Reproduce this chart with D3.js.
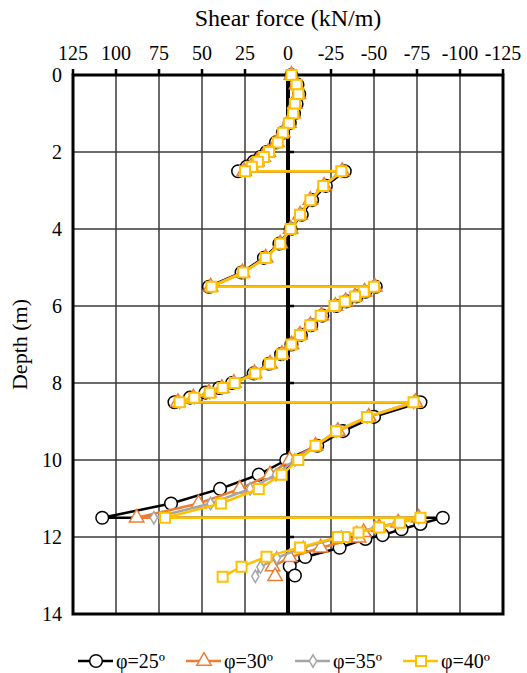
<!DOCTYPE html>
<html><head><meta charset="utf-8">
<script src="https://cdn.jsdelivr.net/npm/d3@7"></script>
<style>body{margin:0;background:#fff;} svg{display:block;}</style>
</head><body>
<svg id="c" width="527" height="673"></svg>
<script>
const xTicks = [125,100,75,50,25,0,-25,-50,-75,-100,-125];
const yTicks = [0,2,4,6,8,10,12,14];
const seriesNames = ["φ=25º","φ=30º","φ=35º","φ=40º"];

const depth25 = [0,0.25,0.5,0.75,1,1.25,1.5,1.75,2,2.13,2.25,2.38,2.5,2.5,2.88,3.25,3.63,4,4.38,4.75,5.13,5.5,5.5,5.63,5.75,5.88,6,6.25,6.5,6.75,7,7.25,7.5,7.75,8,8.13,8.25,8.38,8.5,8.5,8.88,9.25,9.63,10,10.38,10.75,11.13,11.5,11.5,11.66,11.8,11.95,12.05,12.28,12.52,12.76,13];
const shear25 = [-2,-5.5,-6.5,-5,-3.5,-1,3,7,12.5,16,20,24,29,-33,-22,-14,-8,-1.5,5,14,27,46,-51,-45,-40,-34,-28,-20,-13.5,-7.5,-2,4,11,20,32.5,40,48,57,66,-77,-50,-32,-17,1,17,39.5,68,108,-90,-77,-66,-55,-45,-30,-10,-1,-4];

const depth30 = [0,0.25,0.5,0.75,1,1.25,1.5,1.75,2,2.13,2.25,2.38,2.5,2.5,2.88,3.25,3.63,4,4.38,4.75,5.13,5.5,5.5,5.63,5.75,5.88,6,6.25,6.5,6.75,7,7.25,7.5,7.75,8,8.13,8.25,8.38,8.5,8.5,8.88,9.25,9.63,10,10.38,10.75,11.13,11.5,11.5,11.63,11.75,11.88,12.02,12.28,12.53,12.77,13.02];
const shear30 = [-2,-5,-6,-4,-3,-0.5,3,6.5,11.5,14.5,18,21.5,25.5,-31.5,-21,-13,-7,-1.5,4.5,13,26.5,45,-50.5,-44.5,-39,-33.5,-27.5,-19.5,-13,-7,-2,3.5,10.5,19.5,31.5,38.5,46,55,64,-74,-47,-29,-16,-1,10.5,28,52,88,-76,-64,-53,-44,-41,-19,-1,9,7.5];

const depth35 = [0,0.25,0.5,0.75,1,1.25,1.5,1.75,2,2.13,2.25,2.38,2.5,2.5,2.88,3.25,3.63,4,4.38,4.75,5.13,5.5,5.5,5.63,5.75,5.88,6,6.25,6.5,6.75,7,7.25,7.5,7.75,8,8.13,8.25,8.38,8.5,8.5,8.88,9.25,9.63,10,10.38,10.75,11.13,11.5,11.5,11.63,11.75,11.88,12,12.27,12.54,12.78,13.02];
const shear35 = [-2,-5,-6,-4,-3,-0.5,3,6,11,14,17.5,21,25,-31,-20.5,-13,-7,-1.5,4.5,13,26,44.5,-50,-44,-39,-33,-27,-19,-13,-7,-2,3.5,10.5,19,31,38,45.5,54.5,63,-73,-46,-28,-16,-4,7,22,45,78,-76,-64,-51,-40,-31,-9,6.5,16,19];

const depth40 = [0,0.25,0.5,0.75,1,1.25,1.5,1.75,2,2.13,2.25,2.38,2.5,2.5,2.88,3.25,3.63,4,4.38,4.75,5.13,5.5,5.5,5.63,5.75,5.88,6,6.25,6.5,6.75,7,7.25,7.5,7.75,8,8.13,8.25,8.38,8.5,8.5,8.88,9.25,9.63,10,10.38,10.75,11.13,11.5,11.5,11.63,11.75,11.88,12,12,12.27,12.51,12.77,13.03];
const shear40 = [-2,-5,-6,-4,-3,-0.5,3,6,11,14,17.5,21,25,-31,-20.5,-13,-7,-1.5,4.5,13,26,44.5,-50,-44,-39,-33,-27,-19,-13,-7,-2,3.5,10.5,19,31,38,45.5,54.5,63,-73,-46,-28,-16,-6,3.7,17,39,71.5,-77,-65,-53,-41,-33,-29,-7,12.5,27,38];

const FONT = '"Liberation Serif"';
const svg = d3.select("#c");
const x = d3.scaleLinear().domain([125,-125]).range([73,503]);
const y = d3.scaleLinear().domain([0,14]).range([75,614]);

const g = svg.append("g");
g.selectAll(".vg").data(xTicks.filter(t=>t!==125&&t!==-125&&t!==0)).enter().append("line")
  .attr("x1",d=>x(d)).attr("x2",d=>x(d)).attr("y1",y(0)).attr("y2",y(14))
  .attr("stroke","#3a3a3a").attr("stroke-width",1.5);
g.selectAll(".hg").data(yTicks.filter(t=>t!==0&&t!==14)).enter().append("line")
  .attr("x1",x(125)).attr("x2",x(-125)).attr("y1",d=>y(d)).attr("y2",d=>y(d))
  .attr("stroke","#3a3a3a").attr("stroke-width",1.5);
g.append("line").attr("x1",x(0)).attr("x2",x(0)).attr("y1",y(0)).attr("y2",y(14)).attr("stroke","#000").attr("stroke-width",4);
g.selectAll(".zt").data(yTicks.filter(t=>t!==0&&t!==14)).enter().append("line")
  .attr("x1",x(0)).attr("x2",x(0)+6).attr("y1",d=>y(d)).attr("y2",d=>y(d)).attr("stroke","#000").attr("stroke-width",2.5);
g.selectAll(".tt").data(xTicks).enter().append("line")
  .attr("x1",d=>x(d)).attr("x2",d=>x(d)).attr("y1",y(0)-6).attr("y2",y(0)).attr("stroke","#000").attr("stroke-width",2.5);
g.append("rect").attr("x",x(125)).attr("y",y(0)).attr("width",x(-125)-x(125)).attr("height",y(14)-y(0))
  .attr("fill","none").attr("stroke","#000").attr("stroke-width",3);

svg.selectAll(".xl").data(xTicks).enter().append("text").style("font-family",FONT)
  .attr("x",d=>x(d)).attr("y",60).attr("text-anchor","middle").attr("font-size",20).text(d=>String(d));
svg.selectAll(".yl").data(yTicks).enter().append("text").style("font-family",FONT)
  .attr("x",62).attr("y",d=>y(d)+7).attr("text-anchor","end").attr("font-size",20).text(d=>String(d));
svg.append("text").style("font-family",FONT).attr("x",x(0)).attr("y",26).attr("text-anchor","middle").attr("font-size",24).text("Shear force (kN/m)");
svg.append("text").style("font-family",FONT).attr("transform",`translate(27,${(y(0)+y(14))/2}) rotate(-90)`).attr("text-anchor","middle").attr("font-size",22).text("Depth (m)");

const series = [
  {d:depth25,v:shear25,color:"#000",sym:d3.symbolCircle,size:125,stroke:"#000",sw:1.5},
  {d:depth30,v:shear30,color:"#ED7D31",sym:d3.symbolTriangle,size:90,stroke:"#ED7D31",sw:1.5},
  {d:depth35,v:shear35,color:"#A5A5A5",sym:d3.symbolDiamond,size:45,stroke:"#A5A5A5",sw:1.5},
  {d:depth40,v:shear40,color:"#FFC000",sym:d3.symbolSquare,size:100,stroke:"#FFC000",sw:2}
];
const line = d3.line().x(p=>x(p[1])).y(p=>y(p[0]));
series.forEach(s=>{
  const pts = s.d.map((dd,i)=>[dd,s.v[i]]);
  svg.append("path").datum(pts).attr("d",line).attr("fill","none").attr("stroke",s.color).attr("stroke-width",2.5).attr("stroke-linejoin","round");
  svg.append("g").selectAll("path").data(pts).enter().append("path")
    .attr("transform",p=>`translate(${x(p[1])},${y(p[0])})`)
    .attr("d",d3.symbol().type(s.sym).size(s.size)())
    .attr("fill","#fff").attr("stroke",s.stroke).attr("stroke-width",s.sw);
});

const lx = [78,186,295,403];
const lg = svg.append("g");
series.forEach((s,i)=>{
  const x0 = lx[i], yy = 661;
  lg.append("line").attr("x1",x0).attr("x2",x0+35).attr("y1",yy).attr("y2",yy).attr("stroke",s.color).attr("stroke-width",2.5);
  lg.append("path").attr("transform",`translate(${x0+18},${yy})`).attr("d",d3.symbol().type(s.sym).size(s.size)())
    .attr("fill","#fff").attr("stroke",s.stroke).attr("stroke-width",s.sw);
  lg.append("text").style("font-family",FONT).attr("x",x0+38).attr("y",yy+7).attr("font-size",20).text(seriesNames[i]);
});
</script>
</body></html>
